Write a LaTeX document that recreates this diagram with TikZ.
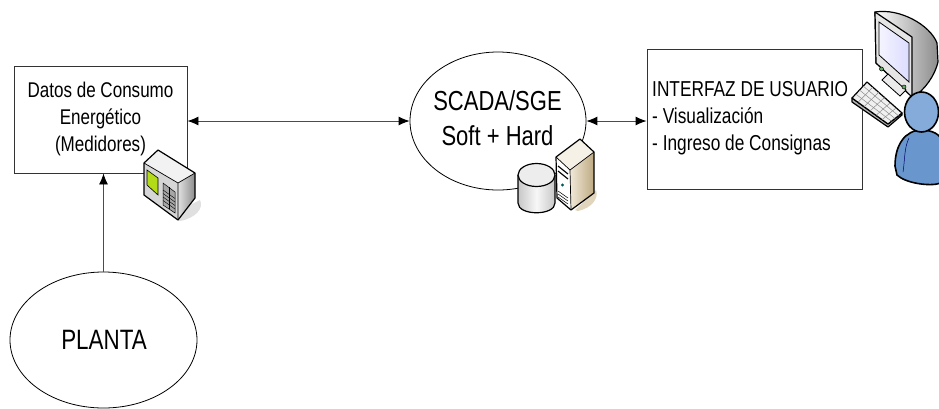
\documentclass[tikz,border=0pt]{standalone}
\usepackage{fontspec}
\setmainfont[FakeStretch=0.8]{Liberation Sans}
\usetikzlibrary{shapes.geometric,arrows.meta}
\definecolor{ublue}{RGB}{104,150,205}
\definecolor{ubluel}{RGB}{150,185,225}
\definecolor{tan1}{RGB}{240,232,215}
\definecolor{tan2}{RGB}{190,170,130}
\tikzset{
  boxn/.style={draw=black!80,line width=0.9pt,fill=white,inner sep=0pt},
  elln/.style={ellipse,draw=black,line width=0.8pt,fill=white,inner sep=0pt},
  lbl/.style={font=\fontsize{21.3}{27}\selectfont,align=center,inner sep=0pt},
  bigl/.style={font=\fontsize{27.5}{35}\selectfont,align=center,inner sep=0pt},
  conn/.style={draw=black!70,line width=0.9pt,{Latex[length=11pt,width=9pt,black]}-{Latex[length=11pt,width=9pt,black]}},
  conns/.style={draw=black!70,line width=0.9pt,-{Latex[length=11pt,width=9pt,black]}},
  ico/.style={draw=black,line width=1.2pt,line join=round}
}
\begin{document}
\begin{tikzpicture}[x=1pt,y=-1pt]
\useasboundingbox (0,0) rectangle (939,408);
\fill[white] (0,0) rectangle (939,408);
% nodes
\node[boxn,minimum width=173pt,minimum height=107pt] (datos) at (100.5,119.5) {};
\node[lbl] (datost) at (100.5,119) {Datos de Consumo\\Energético\\(Medidores)};
\node[elln,minimum width=176pt,minimum height=138pt] (scada) at (498,121) {};
\node[bigl] (scadat) at (497.5,118) {SCADA/SGE\\Soft + Hard};
\node[boxn,minimum width=215pt,minimum height=140pt] (iface) at (754.5,119) {};
\node[lbl,font=\fontsize{21.6}{27}\selectfont,align=left,anchor=west] (ifacet) at (652,118) {INTERFAZ DE USUARIO\\- Visualización\\- Ingreso de Consignas};
\node[elln,minimum width=187pt,minimum height=136pt] (planta) at (103.5,340) {};
\node[bigl,font=\fontsize{28}{35}\selectfont] (plantat) at (104,340) {PLANTA};
% connectors
\draw[conn] (datos.east |- scada.west) -- (scada.west);
\draw[conn] (scada.east) -- (iface.west |- scada.east);
\draw[conns] (planta.north) -- (planta.north |- datos.south);
% meter
\fill[black!12] (170,215) -- (200,200) .. controls (204,208) and (196,218) .. (180,221) -- cycle;
\fill[black!5] (144,163) -- (158,150) -- (195,173) -- (178,183) -- cycle;
\fill[black!16] (144,163) -- (178,183) -- (178,220) -- (144,195) -- cycle;
\shade[left color=black!12,right color=black!45] (178,183) -- (195,173) -- (195,198) -- (178,220) -- cycle;
\draw[ico] (144,163) -- (158,150) -- (195,173) -- (195,198) -- (178,220) -- (144,195) -- cycle;
\draw[line width=0.7pt] (144,163) -- (178,183) -- (178,220) (178,183) -- (195,173);
\draw[black,line width=0.6pt,fill=yellow!70!green] (147,170) -- (158,178) -- (158,195) -- (147,185) -- cycle;
\draw[black,line width=0.5pt,fill=black!35] (163,183) -- (175,192) -- (175,213) -- (163,205) -- cycle;
\foreach \i in {0,1,2,3}{\draw[black,line width=0.4pt] (163,190+\i*3.5) -- (175,198.5+\i*3.5);}
\draw[black,line width=0.4pt] (169,187) -- (169,209);
% disk
\shade[left color=black!22,right color=black!22,middle color=black!3] (518,175) -- (518,203) .. controls (518,216) and (555,216) .. (555,203) -- (555,175) -- cycle;
\draw[ico] (518,175) -- (518,203) .. controls (518,216) and (555,216) .. (555,203) -- (555,175);
\draw[ico,fill=black!7] (536.5,175) ellipse[x radius=18.5,y radius=11.5];
% server
\fill[tan1!70!tan2] (575,210) -- (596,190) .. controls (599,198) and (592,208) .. (578,211) -- cycle;
\fill[white] (556,157) -- (570,170) -- (571,210) -- (557,198) -- cycle;
\shade[left color=tan1,right color=tan2] (570,170) -- (594,152) -- (594,193) -- (571,210) -- cycle;
\fill[tan1!60!white] (556,157) -- (580,139) -- (594,152) -- (570,170) -- cycle;
\draw[ico] (556,157) -- (580,139) -- (594,152) -- (594,193) -- (571,210) -- (557,198) -- cycle;
\draw[line width=0.7pt] (556,157) -- (570,170) -- (571,210) (570,170) -- (594,152);
\draw[black,line width=1.1pt] (558,166) -- (568,174) (558,171) -- (568,179);
\fill[teal!70!black] (562.5,185) circle (1.6pt);
\draw[black,line width=0.5pt] (558,191) -- (568,198) (558,194) -- (568,201) (558,197) -- (568,204);
% monitor
\shade[left color=white,right color=black!45] (875,12) .. controls (900,8) and (930,25) .. (937,43) -- (938,62) .. controls (935,75) and (925,90) .. (913,97) -- (876,63) -- cycle;
\draw[ico] (875,12) .. controls (900,8) and (930,25) .. (937,43) -- (938,62) .. controls (935,75) and (925,90) .. (913,97) -- (876,63) -- cycle;
\draw[ico,fill=black!10] (875,12) -- (912,37) -- (912,97) -- (876,63) -- cycle;
\shade[left color=blue!4,right color=blue!14,draw=black,line width=0.8pt] (879,22) -- (909,43) -- (909,82) -- (879,55) -- cycle;
\draw[black,line width=0.8pt,fill=black!8] (882,80) -- (888,74) -- (906,90) -- (900,96) -- cycle;
\draw[black,line width=0.5pt,fill=green!45!black!60] (881.5,69) circle (2pt) (904,87) circle (2pt);
% keyboard
\draw[ico,fill=black!30] (852,98) -- (852,102) -- (888,127) -- (902,115) -- (902,113) -- (888,124) -- cycle;
\draw[ico,fill=black!6] (852,98) -- (867,82) -- (902,113) -- (888,124) -- cycle;
\foreach \i in {1,2,3}{\draw[black!45,line width=0.5pt] (852+\i*3.7,98-\i*4) -- (888+\i*3.5,124-\i*2.75);}
\foreach \i in {1,...,5}{\draw[black!45,line width=0.5pt] (852+\i*6,98+\i*4.33) -- (867+\i*5.83,82+\i*5.17);}
% user
\draw[black,line width=1.6pt,fill=ublue] (895,166) .. controls (895,145) and (905,130) .. (922,130) .. controls (932,130) and (941,135) .. (941,140) -- (941,183) .. controls (930,187) and (905,183) .. (897,175) -- cycle;
\draw[blue!40!black,line width=0.5pt] (903,172) .. controls (905,160) and (904,148) .. (909,138);
\draw[black,line width=1.6pt,fill=ubluel!60!ublue] (921.5,112) ellipse[x radius=17,y radius=20];
\end{tikzpicture}
\end{document}
